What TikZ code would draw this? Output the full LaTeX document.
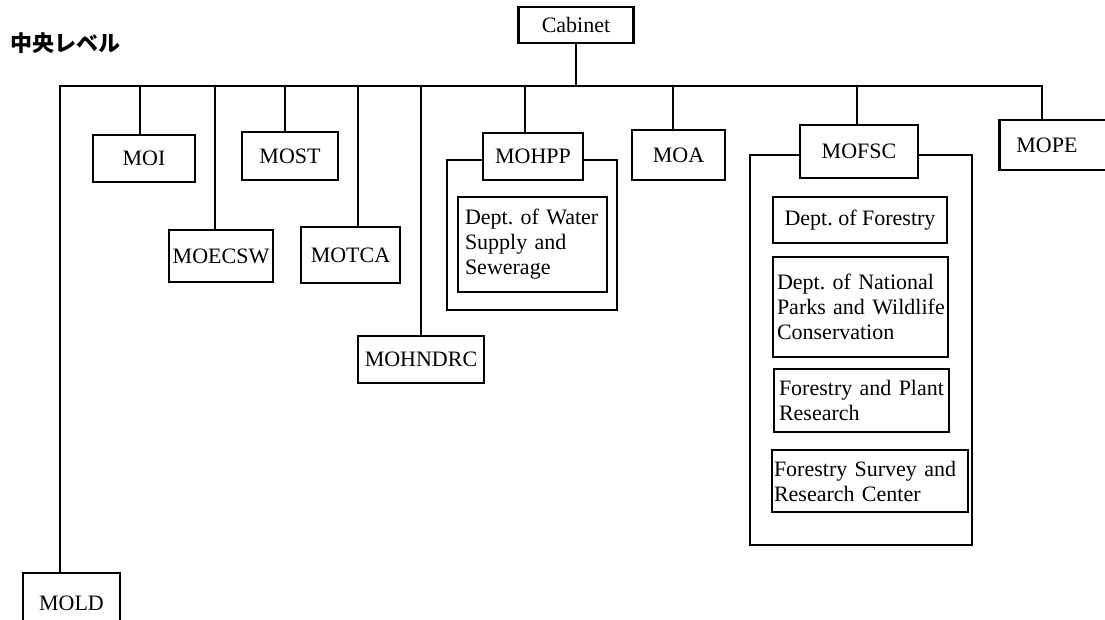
\documentclass[tikz,border=0pt]{standalone}
\usepackage{fontspec}
\setmainfont{Liberation Serif}
\newfontfamily\jpfont{Noto Sans CJK JP}
\frenchspacing

\begin{document}
\begin{tikzpicture}[
  x=1pt, y=-1pt,
  box/.style={draw, line width=2.8pt, font=\fontsize{22}{25}\selectfont, inner sep=0pt, align=center},
  dept/.style={box, align=left, inner ysep=0pt},
  link/.style={line width=2.8pt, line cap=rect}
]
\useasboundingbox (0,0) rectangle (1105,620);
% --- level label and top node ---
\node[anchor=west, inner sep=0pt, font=\jpfont\bfseries\fontsize{22}{22}\selectfont] (level) at (10,43) {中央レベル};
\node[box, minimum width=115pt, minimum height=36pt] (cab) at (576,25) {Cabinet};
% --- ministries ---
\node[box, minimum width=102pt, minimum height=47pt] (moi)     at (144,158.5) {MOI};
\node[box, minimum width=96pt,  minimum height=48pt] (most)    at (290,156)   {MOST};
\node[box, minimum width=104pt, minimum height=52pt] (moecsw)  at (221,256)   {MOECSW};
\node[box, minimum width=99pt,  minimum height=56pt] (motca)   at (350.5,255) {MOTCA};
\node[box, minimum width=126pt, minimum height=47pt] (mohndrc) at (421,359.5) {MOHNDRC};
\node[box, minimum width=100pt, minimum height=47pt] (mohpp)   at (533,156.5) {MOHPP};
\node[box, minimum width=93pt,  minimum height=50pt] (moa)     at (678.5,155) {MOA};
\node[box, minimum width=118pt, minimum height=53pt] (mofsc)   at (859,151.5) {MOFSC};
\node[box, anchor=west, align=left, inner xsep=17pt, text width=100pt, minimum height=50pt] (mope) at (998,145) {MOPE};
\node[box, minimum width=97pt,  minimum height=60pt] (mold)    at (71.5,603)  {MOLD};
% --- departments ---
\node[dept, inner xsep=7pt, text width=135pt, minimum height=95pt] (water) at (532.5,244.5)
  {\mbox{Dept. of Water}\\\mbox{Supply and}\\\mbox{Sewerage}};
\node[box, minimum width=174pt, minimum height=46pt] (forest) at (860,220) {Dept. of Forestry};
\node[dept, inner xsep=4pt, text width=167pt, minimum height=100pt] (parks) at (860.5,307)
  {\mbox{Dept. of National}\\\mbox{Parks and Wildlife}\\\mbox{Conservation}};
\node[dept, inner xsep=5pt, text width=165pt, minimum height=63pt] (plant) at (861.5,400.5)
  {\mbox{Forestry and Plant}\\\mbox{Research}};
\node[dept, inner xsep=2pt, text width=192pt, minimum height=62pt] (survey) at (870,481)
  {\mbox{Forestry Survey and}\\\mbox{Research Center}};
% --- bus and drops ---
\coordinate (busL) at (60,86);
\coordinate (busR) at (1042,86);
\draw[link] (busL) -- (busR);
\draw[link] (cab.south) -- (cab.south |- busL);
\foreach \n/\x in {mold/60, moi/140, moecsw/215, most/285, motca/358, mohndrc/421, mohpp/525, moa/673, mofsc/857, mope/1042} {
  \coordinate (drop) at (\x,86);
  \draw[link] (drop) -- (drop |- \n.north);
}
% --- ministry frames ---
\coordinate (hppNW) at (447,160);
\coordinate (hppSE) at (617,310);
\draw[link, line cap=butt] (mohpp.west |- hppNW) -- (hppNW) |- (hppSE) |- (mohpp.east |- hppNW);
\coordinate (fscNW) at (750,155);
\coordinate (fscSE) at (972,545);
\draw[link, line cap=butt] (mofsc.west |- fscNW) -- (fscNW) |- (fscSE) |- (mofsc.east |- fscNW);
\end{tikzpicture}
\end{document}
